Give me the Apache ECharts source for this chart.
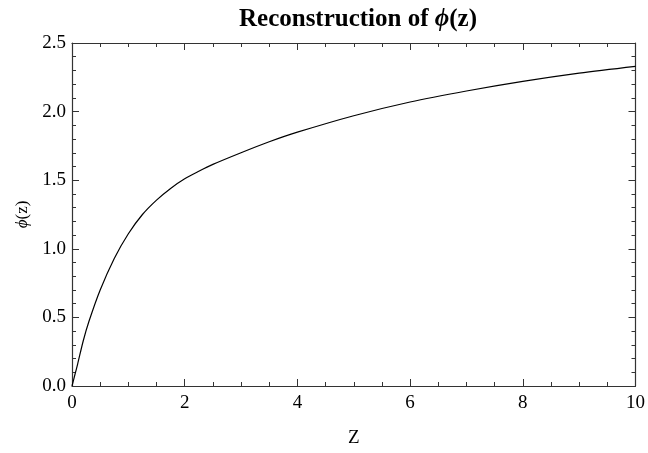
<!DOCTYPE html>
<html>
<head>
<meta charset="utf-8">
<script src="https://cdn.jsdelivr.net/npm/echarts@6/dist/echarts.min.js"></script>
<style>
  html, body { margin: 0; padding: 0; background: #fff; }
  #main { width: 648px; height: 453px; }
</style>
</head>
<body>
<div id="main"></div>
<script>
// values
const zValues = [0, 0.05, 0.1, 0.2, 0.3, 0.5, 0.75, 1.0, 1.25, 1.5, 1.75, 2.0, 2.25, 2.5, 3.0, 3.5, 4.0, 5.0, 6.0, 7.0, 8.0, 9.0, 10.0]
const phiValues = [0, 0.08, 0.16, 0.33, 0.47, 0.70, 0.93, 1.11, 1.25, 1.355, 1.44, 1.51, 1.565, 1.615, 1.70, 1.78, 1.85, 1.97, 2.07, 2.15, 2.22, 2.28, 2.33]
const xTicks = [0, 2, 4, 6, 8, 10]
const yTicks = [0.0, 0.5, 1.0, 1.5, 2.0, 2.5]

const font = '"Liberation Serif", "DejaVu Serif", serif'
const frameColor = '#333'

const chart = echarts.init(document.getElementById('main'))

const tickStyle = {
  axisLine: { show: true, onZero: false, lineStyle: { color: frameColor, width: 1.2 } },
  axisTick: { show: true, inside: true, length: 7, lineStyle: { color: frameColor, width: 1 } },
  splitLine: { show: false }
}

const xBase = {
  type: 'value',
  min: xTicks[0],
  max: xTicks[xTicks.length - 1],
  interval: xTicks[1] - xTicks[0],
  minorTick: { show: true, splitNumber: 4, length: 4, lineStyle: { color: frameColor, width: 1 } },
  ...tickStyle
}
const yBase = {
  type: 'value',
  min: yTicks[0],
  max: yTicks[yTicks.length - 1],
  interval: yTicks[1] - yTicks[0],
  minorTick: { show: true, splitNumber: 5, length: 4, lineStyle: { color: frameColor, width: 1 } },
  ...tickStyle
}

chart.setOption({
  animation: false,
  backgroundColor: '#fff',
  textStyle: { fontFamily: font },
  title: {
    text: 'Reconstruction of {i|ϕ}(z)',
    left: 353,
    textAlign: 'center',
    top: 2,
    textStyle: {
      fontFamily: font,
      fontWeight: 'bold',
      fontSize: 25,
      color: '#000',
      rich: {
        i: { fontFamily: font, fontWeight: 'bold', fontStyle: 'italic', fontSize: 25, color: '#000' }
      }
    }
  },
  grid: { left: 72, right: 9, top: 43, bottom: 60, containLabel: false },
  xAxis: [
    {
      ...xBase,
      position: 'bottom',
      name: 'Z',
      nameLocation: 'middle',
      nameGap: 43,
      nameTextStyle: { fontFamily: font, fontSize: 19, color: '#000' },
      axisLabel: { fontFamily: font, fontSize: 19, color: '#000', margin: 8 }
    },
    { ...xBase, position: 'top', axisLabel: { show: false } }
  ],
  yAxis: [
    {
      ...yBase,
      position: 'left',
      name: '{i|ϕ}(z)',
      nameLocation: 'middle',
      nameRotate: 90,
      nameGap: 38,
      nameTextStyle: {
        fontFamily: font, fontSize: 17, color: '#000',
        rich: { i: { fontFamily: font, fontStyle: 'italic', fontSize: 17, color: '#000' } }
      },
      axisLabel: {
        fontFamily: font, fontSize: 19, color: '#000', margin: 6,
        formatter: v => v.toFixed(1)
      }
    },
    { ...yBase, position: 'right', axisLabel: { show: false } }
  ],
  series: [
    {
      type: 'line',
      xAxisIndex: 0,
      yAxisIndex: 0,
      data: zValues.map((z, i) => [z, phiValues[i]]),
      smooth: 0.3,
      showSymbol: false,
      lineStyle: { color: '#000', width: 1.2 }
    }
  ]
})
</script>
</body>
</html>
